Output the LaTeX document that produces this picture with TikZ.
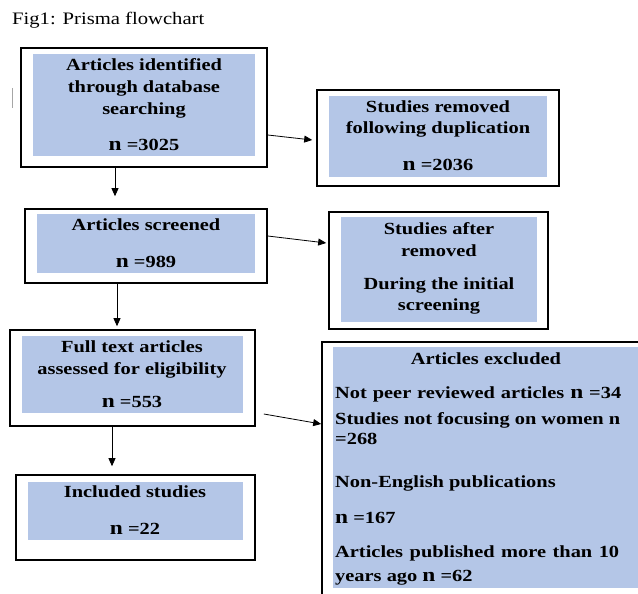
\documentclass[tikz,border=0pt]{standalone}
\usepackage{fontspec}
\setmainfont{Liberation Serif}
\newfontfamily\boxfont[FakeStretch=1.2]{Liberation Serif}
\newfontfamily\titlefont[FakeStretch=1.18]{Liberation Serif}
\usetikzlibrary{arrows.meta}
\definecolor{boxblue}{HTML}{B4C6E7}
\newcommand\bign{{\fontsize{19.5}{20}\selectfont n}}
\tikzset{
  obox/.style={draw=black, line width=1.6pt, fill=white, inner sep=0pt},
  ibox/.style={fill=boxblue, draw=none, inner sep=0pt},
  txt/.style={anchor=base, inner sep=0pt, font=\boxfont\bfseries\fontsize{17}{20}\selectfont},
  ltxt/.style={txt, anchor=base west},
  arr/.style={-{Triangle[length=8pt,width=7pt]}, line width=0.8pt},
}
\begin{document}
\begin{tikzpicture}[x=1pt,y=-1pt]
\useasboundingbox (0,0) rectangle (638,594);
\clip (0,0) rectangle (638,594);
\node[anchor=base west, inner sep=0pt, font=\titlefont\fontsize{17.5}{20}\selectfont] (title) at (12,25) {Fig1: Prisma flowchart};
\draw[gray!70, line width=0.8pt] (12,88) -- (12,108);
% boxes
\node[obox, minimum width=246pt, minimum height=119pt] (b1) at (144,107.5) {};
\node[ibox, minimum width=222pt, minimum height=102pt] (f1) at (144,105) {};
\node[obox, minimum width=242pt, minimum height=96pt] (b2) at (438,138) {};
\node[ibox, minimum width=218pt, minimum height=81pt] (f2) at (438,136.5) {};
\node[obox, minimum width=242pt, minimum height=74pt] (b3) at (146,246) {};
\node[ibox, minimum width=218pt, minimum height=59pt] (f3) at (146,243.5) {};
\node[obox, minimum width=219pt, minimum height=117pt] (b4) at (438.5,270.5) {};
\node[ibox, minimum width=196pt, minimum height=105pt] (f4) at (439,269.5) {};
\node[obox, minimum width=245pt, minimum height=96pt] (b5) at (132.5,378) {};
\node[ibox, minimum width=221pt, minimum height=77pt] (f5) at (132.5,374.5) {};
\node[obox, minimum width=239pt, minimum height=85pt] (b6) at (135.5,517.5) {};
\node[ibox, minimum width=215pt, minimum height=58pt] (f6) at (135.5,511) {};
\node[obox, minimum width=328pt, minimum height=268pt] (b7) at (486,476) {};
\node[ibox, minimum width=317pt, minimum height=241pt] (f7) at (491.5,467.5) {};
% texts
\node[txt] (t1a) at (144,70.7) {Articles identified};
\node[txt] (t1b) at (144,92.7) {through database};
\node[txt] (t1c) at (144,114) {searching};
\node[txt] (t1d) at (144,150.7) {\bign\ =3025};
\node[txt] (t2a) at (438,112.7) {Studies removed};
\node[txt] (t2b) at (438,134) {following duplication};
\node[txt] (t2c) at (438,170.7) {\bign\ =2036};
\node[txt] (t3a) at (146,230.7) {Articles screened};
\node[txt] (t3b) at (146,267.3) {\bign\ =989};
\node[txt] (t4a) at (439,234) {Studies after};
\node[txt] (t4b) at (439,256) {removed};
\node[txt] (t4c) at (439,289.3) {During the initial};
\node[txt] (t4d) at (439,310) {screening};
\node[txt] (t5a) at (132,352.3) {Full text articles};
\node[txt] (t5b) at (132,374) {assessed for eligibility};
\node[txt] (t5c) at (132,407.3) {\bign\ =553};
\node[txt] (t6a) at (135,497.3) {Included studies};
\node[txt] (t6b) at (135,534) {\bign\ =22};
\node[txt] (t7a) at (486,364) {Articles excluded};
\node[ltxt] (t7b) at (335,398) {\makebox[286pt][s]{Not peer reviewed articles \bign\ =34}};
\node[ltxt] (t7c) at (335,424) {\makebox[285pt][s]{Studies not focusing on women n}};
\node[ltxt] (t7d) at (335,444) {=268};
\node[ltxt] (t7e) at (335,487) {Non-English publications};
\node[ltxt] (t7f) at (335,523) {\bign\ =167};
\node[ltxt] (t7g) at (335,557) {\makebox[284pt][s]{Articles published more than 10}};
\node[ltxt] (t7h) at (335,581) {years ago \bign\ =62};
% arrows
\draw[arr] ([yshift=-27.5pt]b1.east) -- ([xshift=-4pt,yshift=-2pt]b2.west);
\draw[arr, shorten >=12pt] ([xshift=-29pt]b1.south) -- ([xshift=-29pt]b1.south |- b3.north);
\draw[arr] ([yshift=10pt]b3.east) -- ([xshift=-2pt,yshift=27.5pt]b4.west);
\draw[arr, shorten >=3pt] ([xshift=-29pt]b3.south) -- ([xshift=-29pt]b3.south |- b5.north);
\draw[arr] ([xshift=8pt,yshift=-36pt]b5.east) -- ([yshift=52pt]b7.west);
\draw[arr, shorten >=8pt] ([xshift=-20.5pt]b5.south) -- ([xshift=-20.5pt]b5.south |- b6.north);
\end{tikzpicture}
\end{document}
